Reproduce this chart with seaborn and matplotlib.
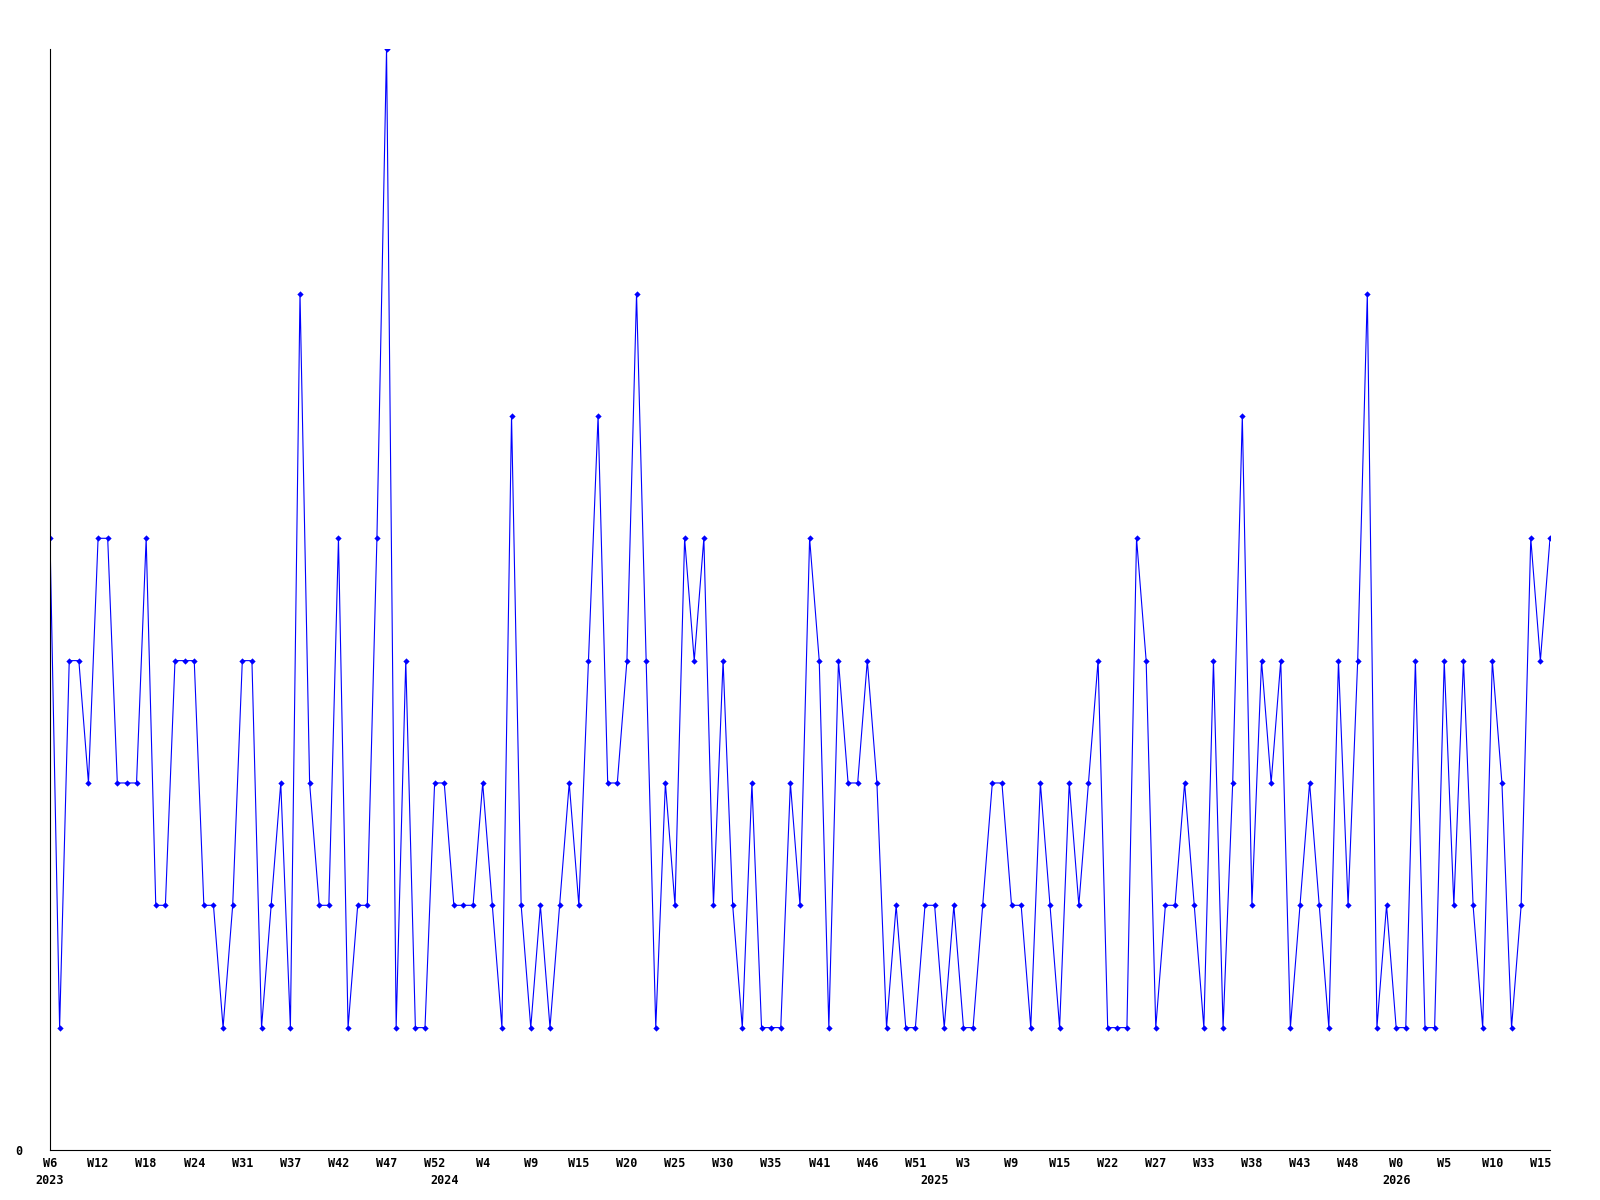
import matplotlib
matplotlib.use("Agg")
import matplotlib.pyplot as plt
import seaborn as sns
import pandas as pd

# Weekly counts, in order (2023 W6 ... 2026 W15)
values = [
    5, 1, 4, 4, 3, 5, 5, 3, 3, 3,
    5, 2, 2, 4, 4, 4, 2, 2, 1, 2,
    4, 4, 1, 2, 3, 1, 7, 3, 2, 2,
    5, 1, 2, 2, 5, 9, 1, 4, 1, 1,
    3, 3, 2, 2, 2, 3, 2, 1, 6, 2,
    1, 2, 1, 2, 3, 2, 4, 6, 3, 3,
    4, 7, 4, 1, 3, 2, 5, 4, 5, 2,
    4, 2, 1, 3, 1, 1, 1, 3, 2, 5,
    4, 1, 4, 3, 3, 4, 3, 1, 2, 1,
    1, 2, 2, 1, 2, 1, 1, 2, 3, 3,
    2, 2, 1, 3, 2, 1, 3, 2, 3, 4,
    1, 1, 1, 5, 4, 1, 2, 2, 3, 2,
    1, 4, 1, 3, 6, 2, 4, 3, 4, 1,
    2, 3, 2, 1, 4, 2, 4, 7, 1, 2,
    1, 1, 4, 1, 1, 4, 2, 4, 2, 1,
    4, 3, 1, 2, 5, 4, 5,
]

# Week labels shown under every 5th point
week_labels = [
    "W6", "W12", "W18", "W24", "W31", "W37", "W42", "W47", "W52",
    "W4", "W9", "W15", "W20", "W25", "W30", "W35", "W41", "W46", "W51",
    "W3", "W9", "W15", "W22", "W27", "W33", "W38", "W43", "W48",
    "W0", "W5", "W10", "W15",
]
label_every = 5

# Year labels and the index of the first point in each year
year_labels = ["2023", "2024", "2025", "2026"]
year_start_index = [0, 41, 92, 140]

y_tick_values = [0]

sns.set_style("white")
plt.rcParams['font.family'] = ['DejaVu Sans Mono', 'DejaVu Sans']

fig = plt.figure(figsize=(16, 12), dpi=100)
ax = fig.add_axes([0.03125, 0.0417, 0.9375, 0.9175])

df = pd.DataFrame({"idx": list(range(len(values))), "count": values})
sns.lineplot(data=df, x="idx", y="count", ax=ax, color="#0000ff",
             linewidth=0.8, marker="D", markersize=3.2,
             markeredgewidth=0, markerfacecolor="#0000ff")

ax.set_xlim(0, len(values) - 1)
ax.set_ylim(0, max(values))

ax.set_xticks(list(range(0, len(values), label_every)))
ax.set_xticklabels(week_labels, fontweight="bold", fontsize=8.5)
ax.tick_params(axis="x", which="both", length=0, pad=5, colors="black")

# Year labels on a secondary x axis below the week labels
sec = ax.secondary_xaxis("bottom")
sec.set_xticks(year_start_index)
sec.set_xticklabels(year_labels, fontweight="bold", fontsize=8.5)
sec.tick_params(axis="x", length=0, pad=17, colors="black")
for s in sec.spines.values():
    s.set_visible(False)

ax.set_yticks(y_tick_values)
ax.set_yticklabels([str(v) for v in y_tick_values], fontweight="bold", fontsize=8.5)
ax.tick_params(axis="y", length=0, pad=20, colors="black")

ax.set_xlabel("")
ax.set_ylabel("")
sns.despine(ax=ax)
for s in ("left", "bottom"):
    ax.spines[s].set_color("black")
    ax.spines[s].set_linewidth(0.8)
ax.grid(False)

fig.savefig("out.png", dpi=100)
